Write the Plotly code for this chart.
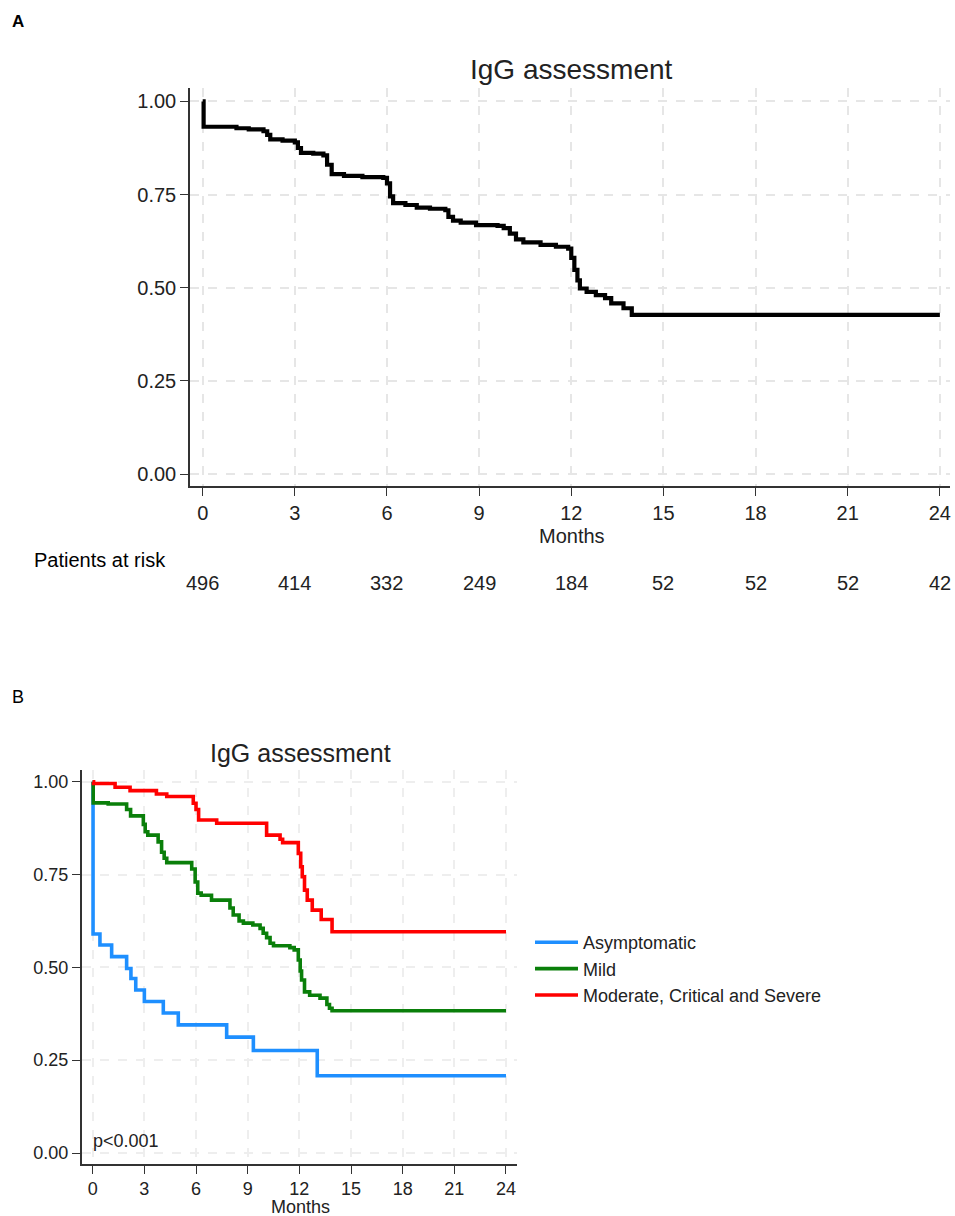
import plotly.graph_objects as go

# ---------------- data ----------------
# Panel A: overall Kaplan-Meier curve
months_all = [0, 0.03, 1.1, 1.5, 1.98, 2.1, 2.2, 2.6, 3.0, 3.1, 3.2, 3.6, 3.93, 4.05, 4.2, 4.6,
              5.2, 5.88, 6.0, 6.1, 6.2, 6.6, 6.97, 7.4, 7.9, 8.0, 8.15, 8.4, 8.9, 9.6, 9.8, 10.0,
              10.2, 10.44, 11.0, 11.5, 11.9, 12.0, 12.1, 12.2, 12.28, 12.5, 12.8, 13.1, 13.3,
              13.7, 13.97, 24]
surv_all = [1.0, 0.932, 0.928, 0.925, 0.920, 0.910, 0.898, 0.895, 0.890, 0.875, 0.862, 0.860,
            0.855, 0.830, 0.805, 0.800, 0.797, 0.795, 0.780, 0.745, 0.727, 0.722, 0.715, 0.712,
            0.708, 0.690, 0.680, 0.675, 0.668, 0.666, 0.660, 0.645, 0.630, 0.622, 0.615, 0.610,
            0.605, 0.580, 0.548, 0.520, 0.498, 0.489, 0.480, 0.472, 0.458, 0.445, 0.427, 0.427]

risk_months = [0, 3, 6, 9, 12, 15, 18, 21, 24]
at_risk = [496, 414, 332, 249, 184, 52, 52, 52, 42]

# Panel B: by severity
months_asym = [0, 0.02, 0.42, 1.1, 1.97, 2.22, 2.5, 3.0, 4.1, 4.97, 7.78, 9.33, 13.04, 24]
surv_asym = [1.0, 0.590, 0.560, 0.529, 0.497, 0.470, 0.439, 0.408, 0.377, 0.345, 0.312, 0.276,
             0.208, 0.208]

months_mild = [0, 0.03, 0.9, 1.97, 2.2, 2.94, 3.05, 3.2, 3.8, 4.0, 4.15, 4.3, 5.75, 5.95, 6.1,
               6.3, 6.9, 7.97, 8.16, 8.5, 8.75, 9.3, 9.72, 9.9, 10.1, 10.3, 10.5, 11.45, 11.7,
               11.94, 12.05, 12.13, 12.3, 12.6, 13.2, 13.6, 13.75, 13.9, 24]
surv_mild = [1.0, 0.943, 0.940, 0.925, 0.908, 0.885, 0.865, 0.856, 0.838, 0.810, 0.794, 0.782,
             0.765, 0.730, 0.700, 0.694, 0.681, 0.660, 0.641, 0.625, 0.619, 0.614, 0.605, 0.592,
             0.580, 0.565, 0.558, 0.553, 0.547, 0.520, 0.490, 0.466, 0.434, 0.425, 0.417, 0.400,
             0.390, 0.383, 0.383]

months_sev = [0, 0.05, 1.3, 2.17, 3.7, 4.3, 5.84, 6.0, 6.15, 7.2, 10.1, 10.88, 11.03, 11.94,
              12.08, 12.17, 12.3, 12.46, 12.75, 13.27, 13.9, 24]
surv_sev = [1.0, 0.995, 0.985, 0.976, 0.967, 0.960, 0.942, 0.925, 0.897, 0.888, 0.856, 0.845,
            0.836, 0.807, 0.771, 0.744, 0.708, 0.681, 0.654, 0.629, 0.596, 0.596]

group_names = ["Asymptomatic", "Mild", "Moderate, Critical and Severe"]
group_colors = ["#1E8FFF", "#0A7F0A", "#FF0000"]

x_ticks = [0, 3, 6, 9, 12, 15, 18, 21, 24]
y_ticks = [0, 0.25, 0.5, 0.75, 1.0]
y_tick_text = ["0.00", "0.25", "0.50", "0.75", "1.00"]

# ---------------- figure ----------------
W, H = 955, 1216
FONT = "Liberation Sans, Arial, sans-serif"
TXT = "#222222"

fig = go.Figure()

fig.add_trace(go.Scatter(x=months_all, y=surv_all, mode="lines", line_shape="hv",
                         line=dict(color="black", width=4.2), showlegend=False,
                         xaxis="x", yaxis="y"))

for m, s, name, col in zip([months_asym, months_mild, months_sev],
                           [surv_asym, surv_mild, surv_sev], group_names, group_colors):
    fig.add_trace(go.Scatter(x=m, y=s, mode="lines", line_shape="hv", name=name,
                             line=dict(color=col, width=3.6), xaxis="x2", yaxis="y2"))


def px_x(p):
    return p / W


def px_y(p):
    return 1 - p / H


axis_common = dict(showline=True, linecolor="#333333", linewidth=1.5, ticks="outside",
                   ticklen=8, tickwidth=1.3, tickcolor="#333333", showgrid=True,
                   gridcolor="#E6E6E6", gridwidth=1.5, griddash="dash", zeroline=False,
                   tickfont=dict(family=FONT, size=20, color=TXT), fixedrange=True)

fig.update_layout(
    width=W, height=H, autosize=False,
    margin=dict(l=0, r=0, t=0, b=0),
    paper_bgcolor="white", plot_bgcolor="white",
    font=dict(family=FONT, color=TXT),
    xaxis=dict(domain=[px_x(190), px_x(950)], range=[-0.413, 24.33], tickvals=x_ticks,
               anchor="y", **axis_common),
    yaxis=dict(domain=[px_y(486), px_y(88)], range=[-0.032, 1.036], tickvals=y_ticks,
               ticktext=y_tick_text, anchor="x", **axis_common),
    xaxis2=dict(domain=[px_x(81.7), px_x(517)], range=[-0.639, 24.64], tickvals=x_ticks,
                anchor="y2", **{**axis_common, "gridcolor": "#EEEEEE",
                                "tickfont": dict(family=FONT, size=18, color=TXT)}),
    yaxis2=dict(domain=[px_y(1164), px_y(770)], range=[-0.0296, 1.0315], tickvals=y_ticks,
                ticktext=y_tick_text, anchor="x2", **{**axis_common, "gridcolor": "#EEEEEE",
                                                      "tickfont": dict(family=FONT, size=18, color=TXT)}),
    legend=dict(x=px_x(530), y=px_y(924), xanchor="left", yanchor="top",
                font=dict(family=FONT, size=18, color=TXT), bgcolor="rgba(0,0,0,0)",
                tracegroupgap=0, itemwidth=43),
)

ann = []
# panel labels
ann.append(dict(text="<b>A</b>", x=px_x(10), y=px_y(22), xref="paper", yref="paper",
                xanchor="left", yanchor="middle", showarrow=False,
                font=dict(family=FONT, size=17, color="black")))
ann.append(dict(text="B", x=px_x(10), y=px_y(697), xref="paper", yref="paper",
                xanchor="left", yanchor="middle", showarrow=False,
                font=dict(family=FONT, size=18, color="black")))
# titles
ann.append(dict(text="IgG assessment", x=px_x(571.5), y=px_y(70), xref="paper", yref="paper",
                xanchor="center", yanchor="middle", showarrow=False,
                font=dict(family=FONT, size=28, color=TXT)))
ann.append(dict(text="IgG assessment", x=px_x(300), y=px_y(753), xref="paper", yref="paper",
                xanchor="center", yanchor="middle", showarrow=False,
                font=dict(family=FONT, size=25, color=TXT)))
# axis titles
ann.append(dict(text="Months", x=px_x(571.5), y=px_y(536), xref="paper", yref="paper",
                xanchor="center", yanchor="middle", showarrow=False,
                font=dict(family=FONT, size=20, color=TXT)))
ann.append(dict(text="Months", x=px_x(300), y=px_y(1207), xref="paper", yref="paper",
                xanchor="center", yanchor="middle", showarrow=False,
                font=dict(family=FONT, size=18, color=TXT)))
# risk table
ann.append(dict(text="Patients at risk", x=px_x(32), y=px_y(560), xref="paper", yref="paper",
                xanchor="left", yanchor="middle", showarrow=False,
                font=dict(family=FONT, size=20, color="black")))
for m, n in zip(risk_months, at_risk):
    ann.append(dict(text=str(n), x=m, y=px_y(583), xref="x", yref="paper",
                    xanchor="center", yanchor="middle", showarrow=False,
                    font=dict(family=FONT, size=20, color=TXT)))
# p value
ann.append(dict(text="p<0.001", x=px_x(91), y=px_y(1141), xref="paper", yref="paper",
                xanchor="left", yanchor="middle", showarrow=False,
                font=dict(family=FONT, size=18, color=TXT)))

fig.update_layout(annotations=ann)

fig.write_html("out.html", config={"displayModeBar": False},
               post_script="document.body.style.margin='0';document.body.style.overflow='hidden';")
